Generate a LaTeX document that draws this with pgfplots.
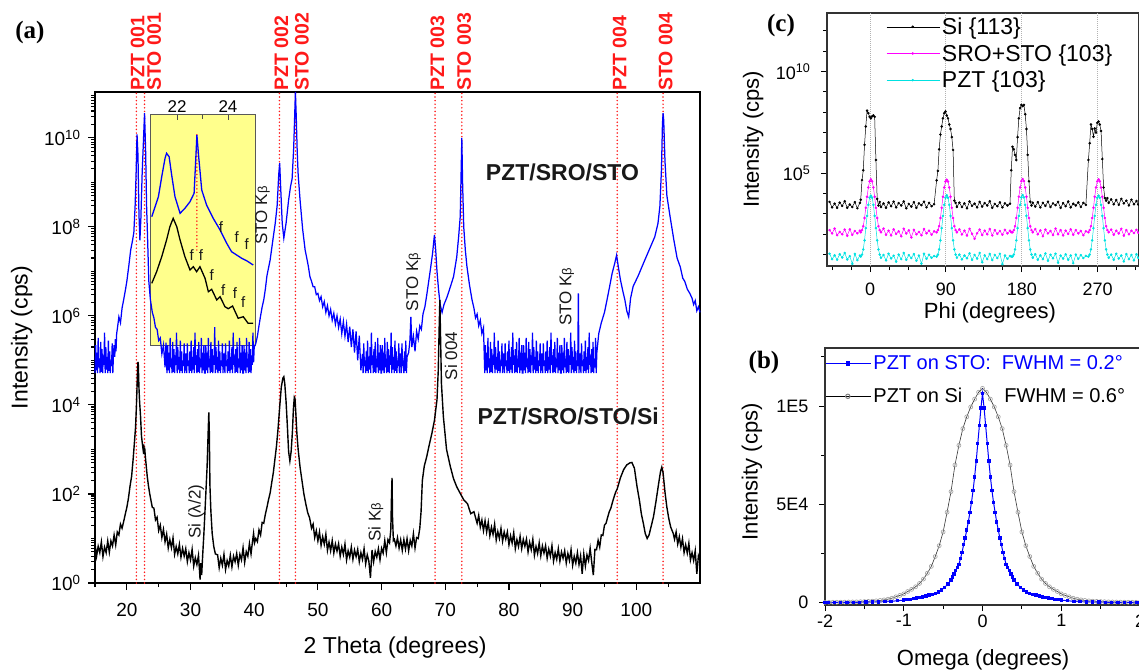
\documentclass[border=0pt]{standalone}
\usepackage{pgfplots}
\pgfplotsset{compat=1.18}
\usepackage{pgfplotstable}
\usepackage{fontspec}
\setmainfont{Liberation Sans}
\newfontfamily\serifb{Liberation Serif}
\definecolor{myyellow}{RGB}{255,255,140}
\definecolor{mymag}{RGB}{255,0,255}
\definecolor{mycyan}{RGB}{0,225,225}
\definecolor{myred}{RGB}{255,25,25}
\definecolor{txt}{RGB}{25,25,25}
\newcommand\fs[1]{\fontsize{#1}{#1}\selectfont}
\tikzset{reddot/.style={draw=myred, color=myred, line width=1.7pt, line cap=round, dash pattern=on 0pt off 3.6pt}}

\pgfplotstableread{
phi si sro pzt
-48 3900 160 11
-45 2100 110 6
-42 3200 190 9.2
-39 2000 90 5.6
-36 3600 130 10.4
-33 2500 100 7.2
-30 4200 170 12
-27 2000 85 5.8
-24 2900 175 8.4
-21 2200 94 3.5
-18 3800 144 10.8
-15 1900 112 5.4
-12 3500 150 9
-11 5000 125 8
-9.5 4.6e4 160 10
-8 1.4e5 250 18
-6.5 2.5e6 630 50
-5 2e7 2000 200
-3.5 1.2e8 7000 800
-2 9e7 2e4 2800
-0.5 6e7 4e4 6300
1 5e7 5e4 7900
2.5 6.3e7 4e4 6300
4 7e7 2e4 2800
5.5 6e7 7000 800
7 4.5e5 2000 200
8.5 5500 630 50
10 2600 250 18
11.5 3900 160 10
13 2200 125 7
16 3300 190 9.5
19 2000 95 5.2
22 3700 150 11
25 2400 88 6.5
28 4000 175 8.8
31 2100 105 4.5
34 3400 140 10
37 2600 80 6
40 4100 185 12
43 1900 110 5.6
46 3100 155 9.4
49 2300 70 6.8
52 3800 165 10.6
55 2000 100 5
58 3300 130 9
61 2700 90 3.6
64 4000 180 11
67 2100 112 6.2
70 3500 150 9.8
73 2400 95 7
76 3000 140 8.5
79 4.5e4 125 8
80.5 1.3e5 160 10
82 1.5e6 250 18
83.5 8e6 630 50
85 2e7 2000 200
86.5 5e7 7000 800
88 9e7 2e4 2800
89.5 1.1e8 3.9e4 6300
91 7e7 4.8e4 8200
92.5 5e7 3.9e4 6300
94 2.5e7 2e4 2800
95.5 1.5e7 7000 800
97 6e6 2000 200
98.5 1.4e6 630 50
100 4500 250 18
101.5 3500 160 10
103 2200 125 7
106 3600 175 10
109 2200 98 5.8
112 3300 150 9
115 1900 86 6.6
118 4100 185 11.5
121 2500 105 5.5
124 3200 60 9.6
127 2100 112 6.4
130 3900 170 12
133 2300 92 4.2
136 3400 150 9.2
139 2600 100 6
142 4200 180 10.8
145 2000 88 5.4
148 3100 160 9.6
151 2400 105 6.8
154 3700 145 11
157 2100 95 3.4
160 3300 165 9
163 2600 110 6.2
166 3200 150 8.6
167.5 1.4e5 125 8
169 2e6 125 8
170.5 1.5e6 160 10
172 8e5 250 18
173.5 4.5e5 630 50
175 6e6 2000 200
176.5 5e7 7000 800
178 1.6e8 2e4 2800
179.5 2.3e8 4.1e4 6500
181 2e8 5.2e4 8500
182.5 2.3e8 4.1e4 6500
184 8e7 2e4 2800
185.5 1.5e7 7000 800
187 8e5 2000 200
188.5 4e4 630 50
190 4000 250 18
191.5 2600 160 10
193 3600 125 7
196 2300 180 10.5
199 3800 100 5.6
202 2100 155 9.2
205 3500 80 6
208 2500 170 11.4
211 4000 110 5
214 2200 145 9.8
217 3300 92 6.6
220 2700 190 11
223 3900 100 4
226 2000 160 9
229 3400 88 6.4
232 2400 150 10.4
235 4100 105 5.6
238 2100 175 9
241 3200 95 3.8
244 2600 160 10
247 3700 110 6.2
250 2200 145 9.4
253 3500 90 6.8
256 2800 140 8.6
259 4.5e5 125 8
260.5 3e6 160 10
262 2.5e7 250 18
263.5 1.5e7 630 50
265 6.3e6 2000 200
266.5 1.6e7 7000 800
268 1e7 2e4 2800
269.5 3e7 4e4 6300
271 3.5e7 5e4 8000
272.5 2.5e7 4e4 6300
274 1.2e7 2e4 2800
275.5 5e5 7000 800
277 2e4 2000 200
278.5 6000 630 50
280 4500 250 18
281.5 6000 160 10
283 3500 125 7
286 5200 170 10
289 3000 95 5.6
292 4800 150 11
295 2800 110 6.4
298 5500 185 9
301 3300 85 4.6
304 4500 160 10.6
307 2600 100 6
310 5000 150 9.6
313 3000 115 5.2
316 4300 165 10.4
318 2900 120 7
}\phidata

\begin{document}
\begin{tikzpicture}
\def\minorlist{}
\foreach \e in {0,...,10}{\foreach \m in {2,...,9}{\xdef\minorlist{\minorlist\m e\e,}}}
\xdef\minorlist{\minorlist 1e1,1e3,1e5,1e7,1e9}

% ---------- inset (drawn first, behind main curves)
\begin{axis}[at={(150pt,-114pt)}, anchor=north west, scale only axis,
  width=105pt, height=231pt,
  xmin=20.94, xmax=25.06, ymin=0, ymax=231,
  axis background/.style={fill=myyellow},
  axis line style={line width=0.8pt, black!65},
  ytick=\empty, xtick={22,24}, minor xtick={23},
  xtick pos=right, xticklabel pos=right, tick align=inside,
  major tick length=6pt, minor tick length=5pt,
  every tick/.style={black!70, line width=0.8pt},
  ticklabel style={font=\fs{17}},
  /pgf/number format/assume math mode=true,
  xticklabel style={yshift=-2pt}]
\addplot[reddot, forget plot] coordinates {(22.78,95) (22.78,212)};
\addplot[blue, line width=1.3pt] coordinates {
(21.01,128.3)(21.14,138.3)(21.27,148.3)(21.40,168.3)(21.53,186.7)(21.59,191.7)(21.69,188.3)
(21.79,170)(21.92,148.3)(22.12,131.7)(22.31,136.7)(22.51,143.3)(22.67,151.7)(22.74,188.3)
(22.78,210)(22.85,188.3)(22.97,155)(23.16,140)(23.42,126.7)(23.69,115)(23.95,101.7)
(24.14,93.3)(24.34,90)(24.54,86.7)(24.73,84.3)(24.99,80)};
\addplot[black, line width=1.3pt] coordinates {
(21.01,61.7)(21.20,73.3)(21.40,88.3)(21.59,105)(21.72,118.3)(21.85,126.7)(21.99,118.3)
(22.12,105)(22.31,88.3)(22.51,75)(22.64,78.3)(22.77,73.3)(22.90,78.3)(23.10,66.7)
(23.23,53.3)(23.36,55.7)(23.56,45)(23.69,48.3)(23.88,38.3)(24.01,36.3)(24.18,39)
(24.40,26.7)(24.60,28.3)(24.79,21.7)(24.99,21.7)};
\begin{scope}[every node/.style={font=\fs{15}, text=txt, inner sep=0pt}]
\node at (axis cs:23.72,118) {f};
\node at (axis cs:24.34,108) {f};
\node at (axis cs:24.73,101) {f};
\node at (axis cs:22.58,90) {f};
\node at (axis cs:22.94,90) {f};
\node at (axis cs:23.36,70) {f};
\node at (axis cs:23.81,55) {f};
\node at (axis cs:24.27,52) {f};
\node at (axis cs:24.60,43) {f};
\end{scope}
\end{axis}

% ---------- panel (a)
\begin{axis}[at={(95pt,-92pt)}, anchor=north west, scale only axis,
  width=605pt, height=491pt,
  xmin=15, xmax=110, ymode=log, ymin=1, ymax=1.07e11,
  clip=false,
  axis line style={line width=1.6pt},
  tick pos=left, tick align=outside,
  major tick length=7pt, minor tick length=4pt,
  every tick/.style={black, line width=1.1pt},
  xtick={20,30,...,100}, minor xtick={15,25,...,105},
  ytick={1,1e2,1e4,1e6,1e8,1e10},
  yticklabels={10\textsuperscript{0},10\textsuperscript{2},10\textsuperscript{4},10\textsuperscript{6},10\textsuperscript{8},10\textsuperscript{10}},
  minor ytick/.expanded={\minorlist},
  ticklabel style={font=\fs{19}},
  xticklabel style={yshift=-10pt},
  yticklabel style={xshift=-4pt},
  /pgf/number format/assume math mode=true,
  xlabel={2 Theta (degrees)}, ylabel={Intensity (cps)},
  label style={font=\fs{23}},
  xlabel style={at={(axis description cs:0.496,-0.132)}, anchor=center},
  ylabel style={at={(axis description cs:-0.121,0.5)}, anchor=center}]
\addplot[reddot, forget plot] coordinates {(21.5,1) (21.5,1.07e11)};
\addplot[reddot, forget plot] coordinates {(22.78,1) (22.78,1.07e11)};
\addplot[reddot, forget plot] coordinates {(43.96,1) (43.96,1.07e11)};
\addplot[reddot, forget plot] coordinates {(46.47,1) (46.47,1.07e11)};
\addplot[reddot, forget plot] coordinates {(68.4,1) (68.4,1.07e11)};
\addplot[reddot, forget plot] coordinates {(72.6,1) (72.6,1.07e11)};
\addplot[reddot, forget plot] coordinates {(97.0,1) (97.0,1.07e11)};
\addplot[reddot, forget plot] coordinates {(104.2,1) (104.2,1.07e11)};
% blue PZT/SRO/STO
\addplot[blue, line width=1.25pt] coordinates {
(15.0,5.2e4)(15.1,2.2e5)(15.2,6e4)(15.3,1.5e5)(15.4,5.2e4)(15.5,3.2e5)(15.6,7e4)(15.7,1.1e5)(15.8,5.2e4)(15.9,2.6e5)
(16.0,5.5e4)(16.1,1.8e5)(16.2,5.2e4)(16.3,1.3e5)(16.4,8e4)(16.5,4.2e5)(16.6,5.2e4)(16.7,2e5)(16.8,6.2e4)(16.9,1.2e5)
(17.0,5.2e4)(17.1,2.8e5)(17.2,5.8e4)(17.3,1.6e5)(17.4,5.2e4)(17.5,1e5)(17.6,7.5e4)(17.7,2.4e5)(17.8,5.2e4)(17.9,1.4e5)
(18.0,2.2e5)(18.1,1.2e5)(18.2,3e5)(18.3,1.6e5)(18.4,4e5)
(18.50,5e5)(18.75,9.5e5)
(19.00,7e5)(19.25,1.5e6)(19.50,2.3e6)(19.80,4e6)(20.00,6e6)(20.30,1.3e7)(20.60,3e7)(20.90,5e7)
(21.10,7.5e7)(21.30,3e8)(21.45,1.5e9)(21.60,1.2e10)(21.75,4e9)(21.90,2e8)(22.05,5e7)(22.20,1.5e8)
(22.40,1.5e9)(22.60,8e9)(22.78,3.6e10)(22.95,5e9)(23.10,3e8)(23.25,6e7)(23.45,6e6)(23.70,2.3e6)
(24.00,1.2e6)(24.25,9e5)(24.50,5.5e5)(24.75,5e5)(25.00,2.8e5)(25.25,3.2e5)(25.50,1.4e5)(25.75,2.2e5)
(26.00,7e4)(26.15,2.5e5)
(26.3,5.2e4)(26.4,2.2e5)(26.5,6e4)(26.6,1.5e5)(26.7,5.2e4)(26.8,3.2e5)(26.9,7e4)(27.0,1.1e5)(27.1,5.2e4)(27.2,2.6e5)
(27.3,5.5e4)(27.4,1.8e5)(27.5,5.2e4)(27.6,1.3e5)(27.7,8e4)(27.8,4.2e5)(27.9,5.2e4)(28.0,2e5)(28.1,6.2e4)(28.2,1.2e5)
(28.3,5.2e4)(28.4,2.8e5)(28.5,5.8e4)(28.6,1.6e5)(28.7,5.2e4)(28.8,1e5)(28.9,7.5e4)(29.0,2.4e5)(29.1,5.2e4)(29.2,1.4e5)
(29.3,1.4e5)(29.4,5.2e4)(29.5,2.4e5)(29.6,7.5e4)(29.7,1e5)(29.8,5.2e4)(29.9,1.6e5)(30.0,5.8e4)(30.1,2.8e5)(30.2,5.2e4)
(30.3,1.2e5)(30.4,6.2e4)(30.5,2e5)(30.6,5.2e4)(30.7,4.2e5)(30.8,8e4)(30.9,1.3e5)(31.0,5.2e4)(31.1,1.8e5)(31.2,5.5e4)
(31.3,2.6e5)(31.4,5.2e4)(31.5,1.1e5)(31.6,7e4)(31.7,3.2e5)(31.8,5.2e4)(31.9,1.5e5)(32.0,6e4)(32.1,2.2e5)(32.2,5.2e4)
(32.3,5.2e4)(32.4,2.2e5)(32.5,6e4)(32.6,1.5e5)(32.7,5.2e4)(32.8,3.2e5)(32.9,7e4)(33.0,1.1e5)(33.1,5.2e4)(33.2,2.6e5)
(33.3,5.5e4)(33.4,1.8e5)(33.5,5.2e4)(33.6,1.3e5)(33.7,8e4)(33.8,5.6e5)(33.9,5.2e4)(34.0,2e5)(34.1,6.2e4)(34.2,1.2e5)
(34.3,5.2e4)(34.4,2.8e5)(34.5,5.8e4)(34.6,1.6e5)(34.7,5.2e4)(34.8,1e5)(34.9,7.5e4)(35.0,2.4e5)(35.1,5.2e4)(35.2,1.4e5)
(35.3,1.4e5)(35.4,5.2e4)(35.5,2.4e5)(35.6,7.5e4)(35.7,1e5)(35.8,5.2e4)(35.9,1.6e5)(36.0,5.8e4)(36.1,2.8e5)(36.2,5.2e4)
(36.3,1.2e5)(36.4,6.2e4)(36.5,2e5)(36.6,5.2e4)(36.7,4.2e5)(36.8,8e4)(36.9,1.3e5)(37.0,5.2e4)(37.1,1.8e5)(37.2,5.5e4)
(37.3,2.6e5)(37.4,5.2e4)(37.5,1.1e5)(37.6,7e4)(37.7,3.2e5)(37.8,5.2e4)(37.9,1.5e5)(38.0,6e4)(38.1,2.2e5)(38.2,5.2e4)
(38.3,5.2e4)(38.4,2.2e5)(38.5,6e4)(38.6,1.5e5)(38.7,5.2e4)(38.8,3.2e5)(38.9,7e4)(39.0,1.1e5)(39.1,5.2e4)(39.2,2.6e5)
(39.3,5.5e4)(39.4,1.8e5)(39.5,5.2e4)(39.6,1.3e5)(39.7,8e4)(39.8,4.2e5)(39.9,9e4)(40.0,2e5)
(40.25,2.4e5)(40.50,3.5e5)(40.75,6e5)(41.00,1e6)(41.25,1.6e6)(41.50,2.3e6)(41.75,4e6)
(42.00,8e6)(42.50,1.8e7)(43.00,6e7)(43.30,1.2e8)(43.60,3e8)(43.85,1.5e9)(44.00,2.7e9)(44.15,8e8)
(44.40,1.2e8)(44.65,5.6e7)(45.00,1.2e8)(45.40,4e8)(45.70,8e8)(45.95,1.2e9)(46.20,6e9)(46.35,3e10)
(46.47,1.07e11)(46.60,3e10)(46.75,5e9)(46.90,1.5e9)(47.20,4e8)(47.60,9e7)(48.00,3e7)(48.25,2e7)
(48.50,1.3e7)(48.75,7.6e6)(49.00,6e6)(49.25,4.5e6)(49.50,4.5e6)(49.75,3e6)(50.00,3.2e6)(50.25,2.2e6)
(50.50,2.7e6)(50.75,1.6e6)(51.00,2.1e6)(51.25,1.2e6)(51.50,1.7e6)(51.75,1e6)(52.00,1.4e6)(52.25,8e5)
(52.50,1.15e6)(52.75,6.5e5)(53.00,1e6)(53.25,5.5e5)(53.50,8.5e5)(53.75,4e5)(54.00,7.5e5)(54.25,3.5e5)
(54.50,6.5e5)(54.75,2.6e5)(55.00,5.7e5)(55.25,2e5)(55.50,5e5)(55.75,1.5e5)(56.00,4.5e5)(56.25,1e5)
(56.50,3.6e5)(56.75,6e4)
(57.0,1.4e5)(57.1,5.2e4)(57.2,2.4e5)(57.3,7.5e4)(57.4,1e5)(57.5,5.2e4)(57.6,1.6e5)(57.7,5.8e4)(57.8,2.8e5)(57.9,5.2e4)
(58.0,1.2e5)(58.1,6.2e4)(58.2,2e5)(58.3,5.2e4)(58.4,4.2e5)(58.5,8e4)(58.6,1.3e5)(58.7,5.2e4)(58.8,1.8e5)(58.9,5.5e4)
(59.0,2.6e5)(59.1,5.2e4)(59.2,1.1e5)(59.3,7e4)(59.4,3.2e5)(59.5,5.2e4)(59.6,1.5e5)(59.7,6e4)(59.8,2.2e5)(59.9,5.2e4)
(60.0,5.2e4)(60.1,2.2e5)(60.2,6e4)(60.3,1.5e5)(60.4,5.2e4)(60.5,3.2e5)(60.6,7e4)(60.7,1.1e5)(60.8,5.2e4)(60.9,2.6e5)
(61.0,5.5e4)(61.1,1.8e5)(61.2,5.2e4)(61.3,1.3e5)(61.4,8e4)(61.5,4.2e5)(61.6,5.2e4)(61.7,2e5)(61.8,6.2e4)(61.9,1.2e5)
(62.0,5.2e4)(62.1,2.8e5)(62.2,5.8e4)(62.3,1.6e5)(62.4,5.2e4)(62.5,1e5)(62.6,7.5e4)(62.7,2.4e5)(62.8,5.2e4)(62.9,1.4e5)
(63.0,1.4e5)(63.1,5.2e4)(63.2,2.4e5)(63.3,7.5e4)(63.4,1e5)(63.5,5.2e4)(63.6,1.6e5)(63.7,5.8e4)(63.8,2.8e5)(63.9,5.2e4)
(64.0,1.2e5)(64.25,1.5e5)
(64.45,2.8e5)(64.60,9.5e5)(64.75,2e5)(65.00,3.5e5)(65.25,1.6e5)(65.50,4.5e5)(65.75,3e5)(66.00,6e5)
(66.25,5e5)(66.50,1.1e6)(66.80,1.6e6)(67.10,3e6)(67.40,6e6)(67.70,1.2e7)(68.00,2.5e7)(68.30,6.6e7)
(68.50,3e7)(68.70,1e7)(68.95,3.8e6)(69.20,1.8e6)(69.50,1.2e6)(69.80,1.8e6)(70.30,2.7e6)(70.80,4.5e6)
(71.30,7.6e6)(71.80,2.1e7)(72.10,6e7)(72.35,1.7e8)(72.50,2e9)(72.60,1e10)(72.72,1e9)(72.90,1e8)
(73.15,3e7)(73.40,1.3e7)(73.80,5e6)(74.20,2.3e6)(74.50,1.5e6)(74.75,9e5)(75.00,1.1e6)(75.25,6e5)
(75.50,8e5)(75.75,4e5)(76.00,5.4e5)
(76.2,5.2e4)(76.3,2.2e5)(76.4,6e4)(76.5,1.5e5)(76.6,5.2e4)(76.7,3.2e5)(76.8,7e4)(76.9,1.1e5)(77.0,5.2e4)(77.1,2.6e5)
(77.2,5.5e4)(77.3,1.8e5)(77.4,5.2e4)(77.5,1.3e5)(77.6,8e4)(77.7,4.2e5)(77.8,5.2e4)(77.9,2e5)(78.0,6.2e4)(78.1,1.2e5)
(78.2,5.2e4)(78.3,2.8e5)(78.4,5.8e4)(78.5,1.6e5)(78.6,5.2e4)(78.7,1e5)(78.8,7.5e4)(78.9,2.4e5)(79.0,5.2e4)(79.1,1.4e5)
(79.2,1.4e5)(79.3,5.2e4)(79.4,2.4e5)(79.5,7.5e4)(79.6,1e5)(79.7,5.2e4)(79.8,1.6e5)(79.9,5.8e4)(80.0,2.8e5)(80.1,5.2e4)
(80.2,1.2e5)(80.3,6.2e4)(80.4,2e5)(80.5,5.2e4)(80.6,4.2e5)(80.7,8e4)(80.8,1.3e5)(80.9,5.2e4)(81.0,1.8e5)(81.1,5.5e4)
(81.2,2.6e5)(81.3,5.2e4)(81.4,1.1e5)(81.5,7e4)(81.6,3.2e5)(81.7,5.2e4)(81.8,1.5e5)(81.9,6e4)(82.0,2.2e5)(82.1,5.2e4)
(82.2,5.2e4)(82.3,2.2e5)(82.4,6e4)(82.5,1.5e5)(82.6,5.2e4)(82.7,3.2e5)(82.8,7e4)(82.9,1.1e5)(83.0,5.2e4)(83.1,2.6e5)
(83.2,5.5e4)(83.3,1.8e5)(83.4,5.2e4)(83.5,1.3e5)(83.6,8e4)(83.7,4.2e5)(83.8,5.2e4)(83.9,2e5)(84.0,6.2e4)(84.1,1.2e5)
(84.2,5.2e4)(84.3,2.8e5)(84.4,5.8e4)(84.5,1.6e5)(84.6,5.2e4)(84.7,1e5)(84.8,7.5e4)(84.9,2.4e5)(85.0,5.2e4)(85.1,1.4e5)
(85.2,1.4e5)(85.3,5.2e4)(85.4,2.4e5)(85.5,7.5e4)(85.6,1e5)(85.7,5.2e4)(85.8,1.6e5)(85.9,5.8e4)(86.0,2.8e5)(86.1,5.2e4)
(86.2,1.2e5)(86.3,6.2e4)(86.4,2e5)(86.5,5.2e4)(86.6,4.2e5)(86.7,8e4)(86.8,1.3e5)(86.9,5.2e4)(87.0,1.8e5)(87.1,5.5e4)
(87.2,2.6e5)(87.3,5.2e4)(87.4,1.1e5)(87.5,7e4)(87.6,3.2e5)(87.7,5.2e4)(87.8,1.5e5)(87.9,6e4)(88.0,2.2e5)(88.1,5.2e4)
(88.2,5.2e4)(88.3,2.2e5)(88.4,6e4)(88.5,1.5e5)(88.6,5.2e4)(88.7,3.2e5)(88.8,7e4)(88.9,1.1e5)(89.0,5.2e4)(89.1,2.6e5)
(89.2,5.5e4)(89.3,1.8e5)(89.4,5.2e4)(89.5,1.3e5)(89.6,8e4)(89.7,4.2e5)(89.8,5.2e4)(89.9,2e5)(90.0,6.2e4)(90.1,1.2e5)
(90.2,5.2e4)(90.3,2.8e5)(90.4,5.8e4)(90.5,1.6e5)(90.6,5.2e4)(90.7,1e5)(90.8,7.5e4)(90.9,3.2e6)(91.0,5.2e4)(91.1,1.4e5)
(91.2,1.4e5)(91.3,5.2e4)(91.4,2.4e5)(91.5,7.5e4)(91.6,1e5)(91.7,5.2e4)(91.8,1.6e5)(91.9,5.8e4)(92.0,2.8e5)(92.1,5.2e4)
(92.2,1.2e5)(92.3,6.2e4)(92.4,2e5)(92.5,5.2e4)(92.6,4.2e5)(92.7,8e4)(92.8,1.3e5)(92.9,5.2e4)(93.0,1.8e5)(93.1,5.5e4)
(93.2,2.6e5)(93.3,5.2e4)(93.4,1.1e5)(93.5,7e4)(93.6,3.2e5)(93.7,5.2e4)(93.8,1.5e5)
(94.10,4e5)(94.50,7e5)(95.00,1.2e6)(95.40,2.3e6)(95.80,4.5e6)
(96.20,9e6)(96.60,1.5e7)(96.90,2.3e7)(97.20,1.2e7)(97.50,6.5e6)(97.90,3.5e6)(98.20,2.3e6)(98.50,1.3e6)
(98.80,9.5e5)(99.10,2.5e6)(99.50,4.6e6)(100.30,8e6)(101.10,1.5e7)(102.00,3e7)(102.90,6e7)(103.40,1.2e8)
(103.70,2.9e8)(103.95,2e9)(104.10,2e10)(104.20,3.6e10)(104.30,2.5e10)(104.50,3e9)(104.80,5e8)(105.30,1.7e8)
(105.90,5e7)(106.40,2e7)(106.90,1.26e7)(107.30,7e6)(107.60,6e6)(108.00,4e6)(108.40,3.2e6)(108.75,2.5e6)
(109.00,1.8e6)(109.25,2.2e6)(109.50,1.3e6)(109.75,1.6e6)(110.00,1.2e6)};
% black PZT/SRO/STO/Si
\addplot[black, line width=1.4pt] coordinates {
(15,7.6)(15.25,4.0)(15.5,6.7)(15.75,4.8)(16,8.4)(16.25,3.9)(16.5,6.4)(16.75,4.8)(17,8.8)(17.25,4.9)
(17.5,8.8)(17.75,6.8)(18,12)(18.25,7.2)(18.5,14)(18.75,12)(19,21)(19.25,17)(19.5,24)(19.75,35)
(20,50)(20.25,80)(20.5,150)(20.75,250)(21,630)(21.2,1500)(21.37,3200)(21.5,9000)(21.6,2.5e4)(21.7,7e4)
(21.75,9.3e4)(21.8,8e4)(21.9,2.5e4)(22,1.2e4)(22.15,5600)(22.3,2000)(22.45,1300)(22.55,1000)(22.65,1300)(22.72,800)
(22.8,1100)(22.9,700)(23,500)(23.2,250)(23.4,150)(23.6,100)(23.8,70)(24,50)(24.25,48)(24.5,26)
(24.75,30)(25,15)(25.25,20)(25.5,10.5)(25.75,16)(26,8.4)(26.25,12.5)(26.5,6.1)(26.75,9.5)(27,6.2)
(27.25,10.3)(27.5,4.4)(27.75,6.6)(28,4.5)(28.25,7.4)(28.5,3.8)(28.75,6.0)(29,4.0)(29.25,5.9)(29.5,3.0)
(29.75,4.8)(30,3.3)(30.25,5.7)(30.5,2.4)(30.75,3.7)(31,2.6)(31.25,4.2)(31.5,1.2)(31.6,2.8)(31.75,1.5)
(31.9,4)(32.1,13)(32.4,100)(32.6,400)(32.75,2000)(32.87,6800)(32.95,2500)(33.05,150)(33.2,40)(33.4,13)
(33.65,6.6)(33.9,4.5)(34.25,4.3)(34.5,2.2)(34.75,3.6)(35,2.5)(35.25,4.4)(35.5,2.0)(35.75,3.2)(36,2.4)
(36.25,4.2)(36.5,2.3)(36.75,4.0)(37,3.0)(37.25,4.6)(37.5,2.5)(37.75,4.4)(38,3.3)(38.25,6.2)(38.5,2.9)
(38.75,5.1)(39,4.0)(39.25,7.7)(39.5,4.5)(39.75,9)(39.9,13)(40.05,8)(40.25,10)(40.5,8.5)(40.75,15.6)
(41,12)(41.25,23)(41.5,22)(41.75,35)(42,50)(42.25,75)(42.5,105)(42.75,180)(43,300)(43.25,600)
(43.5,1200)(43.75,3000)(44,9000)(44.25,2.5e4)(44.5,4e4)(44.65,4.3e4)(44.8,3e4)(45,1.2e4)(45.2,3500)(45.4,900)
(45.6,550)(45.8,900)(46,2500)(46.15,8000)(46.3,1.5e4)(46.4,1.4e4)(46.55,6000)(46.7,2300)(46.9,1000)(47.2,400)
(47.5,200)(47.8,100)(48.1,60)(48.4,38)(48.7,29)(49,17)(49.25,21)(49.5,10.5)(49.75,15)(50,8.8)
(50.25,14)(50.5,7.0)(50.75,11)(51,7.4)(51.25,12.5)(51.5,5.4)(51.75,8.3)(52,5.3)(52.25,9.0)(52.5,4.7)
(52.75,7.5)(53,5.2)(53.25,7.6)(53.5,4.0)(53.75,6.4)(54,4.4)(54.25,7.5)(54.5,3.3)(54.75,5.3)(55,3.8)
(55.25,6.4)(55.5,3.4)(55.75,5.5)(56,3.9)(56.25,5.7)(56.5,3.0)(56.75,4.8)(57,3.4)(57.25,5.9)(57.5,2.7)
(57.75,4.3)(58,3.1)(58.25,1.3)(58.5,5.5)(58.75,3.0)(59,5.1)(59.25,3.8)(59.5,5.9)(59.75,3.3)(60,6.0)
(60.25,4.7)(60.5,9.0)(60.75,4.8)(61,9.4)(61.25,8)(61.45,16)(61.55,80)(61.64,230)(61.72,30)(61.85,9)
(62,9.6)(62.25,6.8)(62.5,10.4)(62.75,6.1)(63,9.3)(63.25,5.4)(63.5,9.4)(63.75,5.8)(64,9.9)(64.25,5.3)
(64.5,9.1)(64.75,6.8)(65,12.8)(65.25,6.1)(65.5,10.5)(65.75,10)(66,17)(66.2,40)(66.4,200)(66.7,420)
(67.1,700)(67.5,1300)(67.9,2300)(68.3,4500)(68.7,1.3e4)(68.9,6e4)(69.05,6e5)(69.15,2.3e6)(69.25,4e5)(69.4,3e4)
(69.7,5500)(70.2,1000)(70.8,410)(71.3,220)(71.8,145)(72.4,100)(72.9,74)(73.5,60)(74,36)(74.5,40)
(75,22)(75.25,33)(75.5,18)(75.75,26)(76,15)(76.25,25)(76.5,14)(76.75,23)(77,11.5)(77.25,18)
(77.5,12.3)(77.75,21)(78,9.2)(78.25,14.3)(78.5,10)(78.75,16.8)(79,8.7)(79.25,14)(79.5,9.7)(79.75,14)
(80,7.2)(80.25,11.5)(80.5,7.9)(80.75,13.5)(81,5.9)(81.25,9.4)(81.5,6.6)(81.75,11.2)(82,5.9)(82.25,9.5)
(82.5,6.7)(82.75,9.7)(83,5.0)(83.25,8.2)(83.5,5.6)(83.75,9.6)(84,4.2)(84.25,6.6)(84.5,4.6)(84.75,8.0)
(85,4.1)(85.25,6.8)(85.5,4.7)(85.75,6.9)(86,3.6)(86.25,5.8)(86.5,4.0)(86.75,6.9)(87,3.1)(87.25,4.8)
(87.5,3.4)(87.75,5.9)(88,3.1)(88.25,5.0)(88.5,3.6)(88.75,5.3)(89,2.8)(89.25,4.6)(89.5,3.2)(89.75,5.6)
(90,2.5)(90.25,4.0)(90.5,2.8)(90.75,4.8)(91,2.6)(91.25,4.1)(91.5,1.6)(91.75,4.5)(92,2.4)(92.25,4.3)
(92.5,3.2)(92.75,6.0)(93,2.9)(93.25,1.5)(93.5,5.7)(93.75,5.6)(94,9.1)(94.25,6.4)(94.5,12)(94.75,11.7)
(95,20)(95.25,22)(95.5,30)(95.75,40)(96,48)(96.25,65)(96.5,85)(96.75,110)(97,130)(97.5,230)
(98,350)(98.5,450)(99,500)(99.3,510)(99.7,380)(100.1,150)(100.5,70)(100.8,35)(101.1,22)(101.4,13)
(101.7,10)(102,12)(102.3,18)(102.7,31)(103.1,70)(103.5,170)(103.8,320)(104,400)(104.2,300)(104.5,110)
(104.8,50)(105.1,28)(105.4,18)(105.8,13)(106,9.6)(106.25,14)(106.5,7.5)(106.75,11)(107,6.4)(107.25,9.9)
(107.5,4.8)(107.75,7.2)(108,4.7)(108.25,7.8)(108.5,3.3)(108.75,4.8)(109,3.2)(109.25,5.3)(109.5,1.6)(109.75,4.1)
(110,3.2)};
% labels
\begin{scope}[every node/.style={rotate=90, anchor=west, text=myred, font=\bfseries\fs{19.5}, inner sep=1pt}]
\node at (axis cs:21.68,1.07e11) {PZT 001};
\node at (axis cs:24.27,1.07e11) {STO 001};
\node at (axis cs:44.27,1.07e11) {PZT 002};
\node at (axis cs:47.49,1.07e11) {STO 002};
\node at (axis cs:68.75,1.07e11) {PZT 003};
\node at (axis cs:72.98,1.07e11) {STO 003};
\node at (axis cs:97.38,1.07e11) {PZT 004};
\node at (axis cs:104.6,1.07e11) {STO 004};
\end{scope}
\node[font=\bfseries\fs{23}, text=txt] at (axis cs:88.4,1.7e9) {PZT/SRO/STO};
\node[font=\bfseries\fs{23}, text=txt] at (axis cs:89.3,5.5e3) {PZT/SRO/STO/Si};
\begin{scope}[every node/.style={rotate=90, font=\fs{17}, text=txt, inner sep=0pt}]
\node at (axis cs:41.3,1.8e8) {STO K{\fs{13}β}};
\node at (axis cs:65.0,5.8e6) {STO K{\fs{13}β}};
\node at (axis cs:89.1,2.7e6) {STO K{\fs{13}β}};
\node at (axis cs:70.9,1.26e5) {Si 004};
\node at (axis cs:30.9,40) {Si (λ/2)};
\node at (axis cs:59.1,23) {Si K{\fs{13}β}};
\end{scope}
\end{axis}

% ---------- panel (c)
\begin{axis}[at={(827pt,-13pt)}, anchor=north west, scale only axis,
  width=312pt, height=253pt,
  xmin=-51, xmax=319, ymode=log, ymin=2.75, ymax=7.6e12,
  axis line style={line width=1.2pt, black!80},
  tick pos=left, tick align=outside,
  major tick length=6pt, minor tick length=4pt,
  every tick/.style={black, line width=0.9pt},
  xtick={0,90,180,270},
  minor xtick={-45,-22.5,22.5,45,67.5,112.5,135,157.5,202.5,225,247.5,292.5,315},
  ytick={1e5,1e10}, yticklabels={10\textsuperscript{5},10\textsuperscript{10}},
  minor ytick={1e1,1e2,1e3,1e4,1e6,1e7,1e8,1e9,1e11,1e12},
  ticklabel style={font=\fs{18}},
  xticklabel style={yshift=-7pt},
  yticklabel style={xshift=-7pt},
  /pgf/number format/assume math mode=true,
  xlabel={Phi (degrees)}, ylabel={Intensity (cps)},
  label style={font=\fs{22}},
  xlabel style={at={(axis description cs:0.522,-0.186)}, anchor=center},
  ylabel style={at={(axis description cs:-0.237,0.5)}, anchor=center},
  legend style={at={(0.19,0.99)}, anchor=north west, draw=none, fill=none,
    font=\fs{23}, row sep=4.5pt, inner sep=0pt},
  legend cell align=left,
  legend image code/.code={\draw[mark repeat=2,mark phase=2,#1] plot coordinates {(0pt,0pt) (26pt,0pt) (53pt,0pt)};}]
\addplot[gray!60, densely dotted, line width=1pt, forget plot] coordinates {(0,2.75) (0,7.6e12)};
\addplot[gray!60, densely dotted, line width=1pt, forget plot] coordinates {(90,2.75) (90,7.6e12)};
\addplot[gray!60, densely dotted, line width=1pt, forget plot] coordinates {(180,2.75) (180,7.6e12)};
\addplot[gray!60, densely dotted, line width=1pt, forget plot] coordinates {(270,2.75) (270,7.6e12)};
\addplot[black, line width=0.5pt, mark=*, mark size=1pt] table[x=phi, y=si] {\phidata};
\addlegendentry{Si \{113\}}
\addplot[mymag, line width=0.5pt, mark=*, mark size=1pt] table[x=phi, y=sro] {\phidata};
\addlegendentry{SRO+STO \{103\}}
\addplot[mycyan, line width=0.5pt, mark=*, mark size=1pt] table[x=phi, y=pzt] {\phidata};
\addlegendentry{PZT \{103\}}
\end{axis}

% ---------- panel (b)
\begin{axis}[at={(825pt,-348pt)}, anchor=north west, scale only axis,
  width=315pt, height=257pt,
  xmin=-2, xmax=2, ymin=-1170, ymax=129500, scaled y ticks=false,
  axis line style={line width=1.2pt, black!80},
  tick pos=left, tick align=outside,
  major tick length=6pt, minor tick length=4pt,
  every tick/.style={black, line width=0.9pt},
  xtick={-2,-1,0,1,2}, xticklabels={-2,-1,0,1,2}, minor xtick={-1.5,-0.5,0.5,1.5},
  ytick={0,50000,100000}, yticklabels={0,5E4,1E5}, minor ytick={25000,75000,125000},
  ticklabel style={font=\fs{18}},
  yticklabel style={xshift=-7pt},
  xlabel={Omega (degrees)}, ylabel={Intensity (cps)},
  label style={font=\fs{22}},
  xlabel style={at={(axis description cs:0.502,-0.214)}, anchor=center},
  ylabel style={at={(axis description cs:-0.232,0.518)}, anchor=center},
  legend style={at={(0,0.978)}, anchor=north west, draw=none, fill=none,
    font=\fs{20}, row sep=13pt, inner sep=0pt},
  legend cell align=left,
  legend image code/.code={\draw[mark repeat=2,mark phase=2,#1] plot coordinates {(0pt,0pt) (22pt,0pt) (45pt,0pt)};}]
\addlegendimage{blue, line width=1.2pt, mark=square*, mark size=1.5pt}
\addlegendentry{\textcolor{blue}{PZT on STO:\ \ FWHM = 0.2°}}
\addlegendimage{black, line width=1pt, mark=o, mark options={gray, fill=white}, mark size=2.2pt}
\addlegendentry{PZT on Si\hspace{42pt}FWHM = 0.6°}
\addplot[black!80, line width=0.6pt, mark=o, mark options={gray!75, line width=0.6pt}, mark size=2pt, forget plot] coordinates {
(-2.00,190)(-1.95,210)(-1.90,230)(-1.85,250)(-1.80,280)(-1.75,310)(-1.70,350)(-1.65,390)(-1.60,440)(-1.55,500)
(-1.50,580)(-1.45,680)(-1.40,800)(-1.35,950)(-1.30,1150)(-1.25,1450)(-1.20,1800)(-1.15,2300)(-1.10,3000)(-1.05,3700)
(-1.00,4500)(-0.95,5700)(-0.90,6800)(-0.85,8100)(-0.80,9800)(-0.75,12000)(-0.70,15000)(-0.65,18500)(-0.60,23500)(-0.55,29000)
(-0.50,36000)(-0.45,46000)(-0.40,56500)(-0.35,70000)(-0.30,80000)(-0.25,88500)(-0.20,94500)(-0.15,99500)(-0.10,103500)(-0.05,107000)
(0.00,109000)(0.05,107000)(0.10,103500)(0.15,99500)(0.20,94500)(0.25,88500)(0.30,80000)(0.35,70000)(0.40,56500)(0.45,46000)
(0.50,36000)(0.55,29000)(0.60,23500)(0.65,18500)(0.70,15000)(0.75,12000)(0.80,9800)(0.85,8100)(0.90,6800)(0.95,5700)
(1.00,4500)(1.05,3700)(1.10,3000)(1.15,2300)(1.20,1800)(1.25,1450)(1.30,1150)(1.35,950)(1.40,800)(1.45,680)
(1.50,580)(1.55,500)(1.60,440)(1.65,390)(1.70,350)(1.75,310)(1.80,280)(1.85,250)(1.90,230)(1.95,210)(2.00,190)};
\addplot[blue, line width=1pt, mark=square*, mark size=1.2pt, forget plot] coordinates {
(-2.00,70)(-1.96,80)(-1.88,100)(-1.80,120)(-1.72,150)(-1.64,180)(-1.56,220)(-1.48,280)(-1.40,350)(-1.32,420)
(-1.24,550)(-1.16,700)(-1.08,1000)(-1.00,1300)(-0.96,1500)(-0.92,1700)(-0.88,2000)(-0.84,2300)(-0.80,2600)(-0.76,3000)
(-0.72,3400)(-0.68,3900)(-0.64,4300)(-0.60,4800)(-0.56,5500)(-0.52,6500)(-0.48,7800)(-0.44,9500)(-0.40,11500)(-0.38,13000)
(-0.36,14500)(-0.34,16500)(-0.32,18000)(-0.30,19500)(-0.28,22500)(-0.26,25500)(-0.24,29500)(-0.22,33000)(-0.20,37000)(-0.18,41000)
(-0.16,46000)(-0.14,51000)(-0.12,57000)(-0.10,64000)(-0.08,72000)(-0.06,81000)(-0.04,90000)(-0.02,99000)(0.00,106500)
(0.02,99000)(0.04,90000)(0.06,81000)(0.08,72000)(0.10,64000)(0.12,57000)(0.14,51000)(0.16,46000)(0.18,41000)(0.20,37000)
(0.22,33000)(0.24,29500)(0.26,25500)(0.28,22500)(0.30,19500)(0.32,18000)(0.34,16500)(0.36,14500)(0.38,13000)(0.40,11500)
(0.44,9500)(0.48,7800)(0.52,6500)(0.56,5500)(0.60,4800)(0.64,4300)(0.68,3900)(0.72,3400)(0.76,3000)(0.80,2600)
(0.84,2300)(0.88,2000)(0.92,1700)(0.96,1500)(1.00,1300)(1.08,1000)(1.16,700)(1.24,550)(1.32,420)(1.40,350)
(1.48,280)(1.56,220)(1.64,180)(1.72,150)(1.80,120)(1.88,100)(1.96,80)(2.00,70)};
\end{axis}

% panel letters
\node[font=\serifb\bfseries\fs{25}] at (30pt,-32pt) {(a)};
\node[font=\serifb\bfseries\fs{25}] at (781pt,-25pt) {(c)};
\node[font=\serifb\bfseries\fs{25}] at (764pt,-362pt) {(b)};

\pgfresetboundingbox
\path[use as bounding box] (0pt,0pt) rectangle (1139pt,-669pt);
\end{tikzpicture}
\end{document}
